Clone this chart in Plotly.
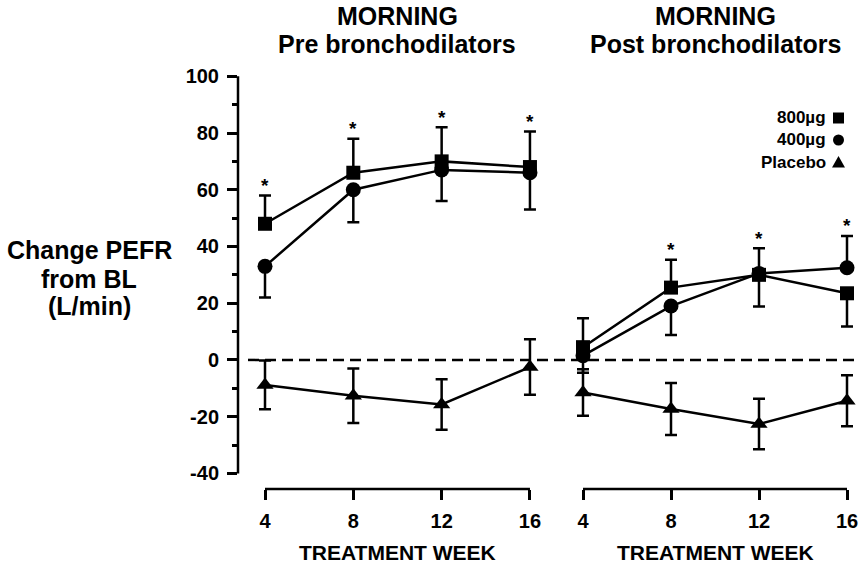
import plotly.graph_objects as go

# ---- data -------------------------------------------------------------
weeks = [4, 8, 12, 16]
x_tick_text = ["4", "8", "12", "16"]
y_tick_vals = [-40, -20, 0, 20, 40, 60, 80, 100]
y_tick_text = ["-40", "-20", "0", "20", "40", "60", "80", "100"]
y_minor_vals = [-30, -10, 10, 30, 50, 70, 90]

# Morning PEFR, pre bronchodilators (change from baseline, L/min)
pre_800 = [48, 66, 70, 68]
pre_800_up = [10, 12, 12, 12.5]
pre_800_down = [0, 0, 0, 0]
pre_400 = [33, 60, 67, 66]
pre_400_up = [0, 0, 0, 0]
pre_400_down = [11, 11.5, 11, 13]
pre_placebo = [-8.8, -12.6, -15.7, -2.5]
pre_placebo_err = [8.6, 9.6, 8.9, 9.8]
pre_significant = [True, True, True, True]

# Morning PEFR, post bronchodilators
post_800 = [4.5, 25.5, 30, 23.5]
post_800_up = [10.2, 9.8, 9.4, 0]
post_800_down = [0, 0, 0, 11.7]
post_400 = [1.5, 19, 30.5, 32.5]
post_400_up = [0, 0, 0, 11.2]
post_400_down = [6, 10.2, 11.7, 0]
post_placebo = [-11.5, -17.3, -22.6, -14.4]
post_placebo_err = [8.2, 9.2, 8.9, 9.0]
post_significant = [False, True, True, True]

legend_labels = ["800\u00b5g", "400\u00b5g", "Placebo"]
panel_titles = [("MORNING", "Pre bronchodilators"), ("MORNING", "Post bronchodilators")]
y_title_lines = ["Change PEFR", "from BL", "(L/min)"]
x_title = "TREATMENT WEEK"

# ---- styling ----------------------------------------------------------
FONT = "Liberation Sans, Arial, Helvetica, sans-serif"
BLACK = "black"
W, H = 860, 564
ML, MR, MT, MB = 238, 0, 76, 75
PW, PH = W - ML - MR, H - MT - MB
Y_RANGE = [-45.5, 100.1]


def px_x(p):
    return (p - ML) / PW


def px_y(p):
    return (H - MB - p) / PH


fig = go.Figure()


def add_series(xaxis, y, up, down, symbol, size):
    fig.add_trace(go.Scatter(
        x=weeks, y=y, xaxis=xaxis, yaxis="y",
        mode="lines+markers",
        line=dict(color=BLACK, width=2.5),
        marker=dict(symbol=symbol, size=size, color=BLACK, line=dict(width=0)),
        error_y=dict(type="data", symmetric=False, array=up, arrayminus=down,
                     color=BLACK, thickness=2.5, width=6),
        cliponaxis=False, showlegend=False, hoverinfo="x+y",
    ))


add_series("x", pre_800, pre_800_up, pre_800_down, "square", 14)
add_series("x", pre_400, pre_400_up, pre_400_down, "circle", 15)
add_series("x", pre_placebo, pre_placebo_err, pre_placebo_err, "triangle-up", 15)
add_series("x2", post_800, post_800_up, post_800_down, "square", 14)
add_series("x2", post_400, post_400_up, post_400_down, "circle", 15)
add_series("x2", post_placebo, post_placebo_err, post_placebo_err, "triangle-up", 15)

annotations = []


def add_stars(xref, significant, series):
    for i, sig in enumerate(significant):
        if not sig:
            continue
        top = max(v[i] + u[i] for v, u in series)
        annotations.append(dict(
            x=weeks[i], y=top, xref=xref, yref="y", text="<b>*</b>",
            showarrow=False, yanchor="middle", yshift=10,
            font=dict(family=FONT, size=19, color=BLACK)))


add_stars("x", pre_significant,
          [(pre_800, pre_800_up), (pre_400, pre_400_up), (pre_placebo, pre_placebo_err)])
add_stars("x2", post_significant,
          [(post_800, post_800_up), (post_400, post_400_up), (post_placebo, post_placebo_err)])

# panel titles and x-axis titles
for xref, (line1, line2) in zip(["x", "x2"], panel_titles):
    annotations.append(dict(x=10, y=px_y(16), xref=xref, yref="paper", text=f"<b>{line1}</b>",
                            showarrow=False, yanchor="middle",
                            font=dict(family=FONT, size=25, color=BLACK)))
    annotations.append(dict(x=10, y=px_y(44), xref=xref, yref="paper", text=f"<b>{line2}</b>",
                            showarrow=False, yanchor="middle",
                            font=dict(family=FONT, size=25, color=BLACK)))
    annotations.append(dict(x=10, y=px_y(552), xref=xref, yref="paper", text=f"<b>{x_title}</b>",
                            showarrow=False, yanchor="middle",
                            font=dict(family=FONT, size=21, color=BLACK)))

# y-axis title
for line, yc in zip(y_title_lines, [250, 279, 306]):
    annotations.append(dict(x=px_x(89), y=px_y(yc), xref="paper", yref="paper",
                            text=f"<b>{line}</b>", showarrow=False,
                            xanchor="center", yanchor="middle",
                            font=dict(family=FONT, size=25, color=BLACK)))

# legend text
legend_rows = [118, 140, 162]
for label, yc in zip(legend_labels, legend_rows):
    annotations.append(dict(x=px_x(828), y=px_y(yc), xref="paper", yref="paper",
                            text=f"<b>{label}</b>", showarrow=False,
                            xanchor="right", yanchor="middle",
                            font=dict(family=FONT, size=17, color=BLACK)))

shapes = []
# y axis line (from -40 to 100)
shapes.append(dict(type="line", xref="paper", yref="y", x0=0, x1=0, y0=-40, y1=100,
                   line=dict(color=BLACK, width=2.5)))
# x axis lines, week 4 to 16 in each panel
for xref in ["x", "x2"]:
    shapes.append(dict(type="line", xref=xref, yref="y domain", x0=weeks[0], x1=weeks[-1],
                       y0=0, y1=0, line=dict(color=BLACK, width=2.5)))
# zero reference line
shapes.append(dict(type="line", xref="paper", yref="y", x0=px_x(248), x1=1, y0=0, y1=0,
                   layer="below", line=dict(color=BLACK, width=2.5, dash="11px,6px")))

# legend keys
kx0, kx1 = px_x(833), px_x(844)
r0 = legend_rows[0]
shapes.append(dict(type="rect", xref="paper", yref="paper", x0=kx0, x1=kx1,
                   y0=px_y(r0 + 5.5), y1=px_y(r0 - 5.5),
                   fillcolor=BLACK, line=dict(width=0)))
r1 = legend_rows[1]
shapes.append(dict(type="circle", xref="paper", yref="paper", x0=kx0, x1=kx1,
                   y0=px_y(r1 + 5.5), y1=px_y(r1 - 5.5),
                   fillcolor=BLACK, line=dict(width=0)))
r2 = legend_rows[2]
shapes.append(dict(type="path", xref="paper", yref="paper",
                   path=(f"M {px_x(832)},{px_y(r2 + 5.5)} L {px_x(845)},{px_y(r2 + 5.5)} "
                         f"L {px_x(838.5)},{px_y(r2 - 6)} Z"),
                   fillcolor=BLACK, line=dict(width=0)))

axis_common = dict(
    tickvals=weeks, ticktext=x_tick_text, ticks="outside", ticklen=10, tickwidth=2.5,
    tickcolor=BLACK, showgrid=False, zeroline=False, showline=False,
    tickfont=dict(family=FONT, size=20, color=BLACK, weight="bold"),
    ticklabelstandoff=4, anchor="y", fixedrange=True,
)

fig.update_layout(
    width=W, height=H,
    margin=dict(l=ML, r=MR, t=MT, b=MB, pad=0),
    paper_bgcolor="white", plot_bgcolor="white",
    showlegend=False,
    xaxis=dict(domain=[0, px_x(545)], range=[4 - 27 / 22.08, 4 + 280 / 22.08], **axis_common),
    xaxis2=dict(domain=[px_x(565), 1], range=[4 - 18 / 22.0, 4 + 277 / 22.0], **axis_common),
    yaxis=dict(
        range=Y_RANGE,
        tickvals=y_tick_vals, ticktext=y_tick_text, ticks="outside", ticklen=10,
        tickwidth=2.5, tickcolor=BLACK, showgrid=False, zeroline=False, showline=False,
        minor=dict(tickvals=y_minor_vals, ticks="outside", ticklen=5, tickwidth=2.5,
                   tickcolor=BLACK, showgrid=False),
        tickfont=dict(family=FONT, size=20, color=BLACK, weight="bold"),
        ticklabelstandoff=4, fixedrange=True,
    ),
    annotations=annotations,
    shapes=shapes,
)

fig.write_html("out.html")
